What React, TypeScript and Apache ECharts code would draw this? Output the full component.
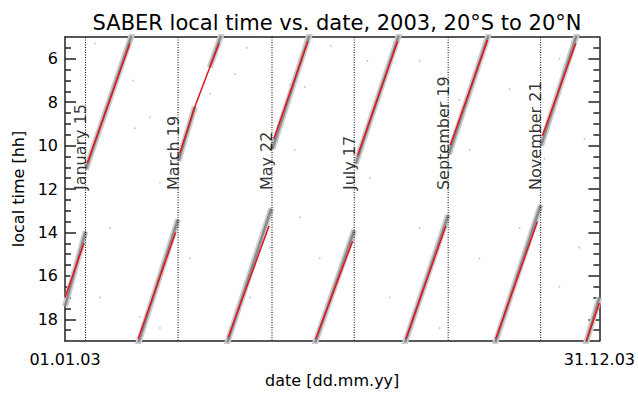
import React, { useEffect, useRef } from "react";
import * as echarts from "echarts";

// x: day of year 2003, y: local time [h]
const xRange = [1, 365];
const xTickValues = [1, 365];
const xTickLabels = ["01.01.03", "31.12.03"];
const yRange = [5, 19];
const yMajor = [6, 8, 10, 12, 14, 16, 18];
const yMinor = [5.5, 6.5, 7, 7.5, 8.5, 9, 9.5, 10.5, 11, 11.5, 12.5, 13, 13.5, 14.5, 15, 15.5, 16.5, 17, 17.5, 18.5];

const yawDays = [15, 78, 142, 198, 262, 325];
const yawLabels = ["January 15", "March 19", "May 22", "July 17", "September 19", "November 21"];
const yawLabelHour = 12.05;

// mean local time (red) segments
const meanSegments: number[][][] = [
  [[1, 17.0], [13.9, 14.5]],
  [[16.2, 10.8], [29.4, 8.3], [45.2, 5.3]],
  [[50.9, 18.9], [76.3, 14.0]],
  [[79.2, 10.35], [89.4, 8.22], [99.6, 6.4], [106, 5.29]],
  [[112.1, 18.85], [140, 13.7]],
  [[143.2, 9.7], [166.5, 5.2]],
  [[171.8, 18.9], [196.9, 14.4]],
  [[200.3, 10.46], [227.6, 5.2]],
  [[233.2, 18.9], [260.4, 13.7]],
  [[263.4, 10.0], [288.8, 5.14]],
  [[294.4, 18.9], [322.8, 13.5]],
  [[326.2, 9.55], [348.9, 5.29]],
  [[356.1, 19.0], [365, 17.25]],
];

// spread of individual profiles (grey band)
const bandSegments: number[][][] = [
  [[1, 17.4], [15, 13.95]],
  [[15.2, 11.1], [47, 4.8]],
  [[50, 19.3], [78, 13.4]],
  [[78.3, 10.7], [89.4, 8.22]],
  [[99.6, 6.4], [108, 4.8]],
  [[111, 19.2], [141.5, 12.9]],
  [[142.3, 10.15], [168, 4.8]],
  [[170.8, 19.2], [198, 13.9]],
  [[199, 10.84], [229, 4.8]],
  [[232, 19.2], [262, 13.2]],
  [[262.5, 10.4], [290, 4.8]],
  [[293.5, 19.2], [325, 12.74]],
  [[325.3, 10.0], [350, 4.8]],
  [[355, 19.3], [365, 17.0]],
];

// scattered outlier profiles
const outliers: number[][] = [
  [21.4, 5.3], [47.3, 7.0], [116.7, 6.7], [124.8, 5.5], [58.8, 8.7], [99.7, 7.6],
  [65.6, 11.7], [48.6, 9.2], [154.1, 7.2], [164.3, 7.3], [157.5, 10.2], [182, 5.4],
  [207, 6.1], [242.5, 6.1], [269.7, 7.9], [303.8, 7.4], [337.8, 6.0], [354.8, 9.7],
  [276.5, 10.2], [160.9, 13.3], [174.5, 15.2], [181.3, 17.0], [126.9, 17.0], [86, 15.2],
  [31.6, 13.8], [24.8, 17.0], [65.6, 18.4], [242.5, 13.8], [256.1, 18.4], [283.3, 15.2],
  [310.6, 13.8], [337.8, 16.5], [351.4, 14.7], [222.1, 17.0], [113.3, 18.4], [140.5, 14.7],
  [198.3, 12.4], [327.6, 10.6], [52, 17.9], [208.5, 11.5],
];

const FONT = "DejaVu Sans";
const INK = "#000";

export default function App() {
  const ref = useRef<HTMLDivElement>(null);
  useEffect(() => {
    if (!ref.current) return;
    const chart = echarts.init(ref.current, null, { renderer: "svg" });
    const frame = { show: true, lineStyle: { color: "#222", width: 1.5 } };
    const yBase = { type: "value", min: yRange[0], max: yRange[1], inverse: true, splitLine: { show: false } };
    const series: any[] = [];
    bandSegments.forEach((seg) => {
      series.push({ type: "line", data: seg, showSymbol: false, silent: true, lineStyle: { color: "#cccccc", width: 6, cap: "butt" }, z: 1 });
      series.push({ type: "line", data: seg, showSymbol: false, silent: true, lineStyle: { color: "#8a8a8a", width: 2.5, cap: "butt" }, z: 2 });
    });
    meanSegments.forEach((seg) => {
      series.push({ type: "line", data: seg, showSymbol: false, silent: true, lineStyle: { color: "#e3141b", width: 1.5 }, z: 4 });
    });
    yawDays.forEach((d) => {
      series.push({ type: "line", data: [[d, yRange[0]], [d, yRange[1]]], showSymbol: false, silent: true, lineStyle: { color: "#000", width: 1, type: [1, 1.5] }, z: 3 });
    });
    series.push({
      type: "scatter", data: outliers, symbolSize: 1.8, itemStyle: { color: "#b8b8b8" }, silent: true, z: 0,
    });
    series.push({
      type: "scatter",
      data: yawDays.map((d, i) => ({ value: [d, yawLabelHour], name: yawLabels[i] })),
      symbolSize: 0,
      silent: true,
      z: 5,
      label: {
        show: true, position: [0, 0], rotate: 90, align: "left", verticalAlign: "bottom",
        formatter: (p: any) => p.name, fontFamily: FONT, fontSize: 16, color: INK, offset: [0, 3],
      },
    });
    chart.setOption({
      animation: false,
      backgroundColor: "#fff",
      title: {
        text: "SABER local time vs. date, 2003, 20°S to 20°N",
        left: 332, top: 7, textAlign: "center",
        textStyle: { fontFamily: FONT, fontSize: 21, fontWeight: "normal", color: INK },
      },
      grid: { left: 65, right: 38, top: 37, bottom: 49 },
      xAxis: [
        {
          type: "value", min: xRange[0], max: xRange[1], position: "bottom",
          axisLine: frame, axisTick: { show: false }, splitLine: { show: false },
          axisLabel: {
            customValues: xTickValues, margin: 10, fontFamily: FONT, fontSize: 16, color: INK,
            formatter: (v: number) => xTickLabels[xTickValues.indexOf(v)] ?? "",
          },
          name: "date [dd.mm.yy]", nameLocation: "middle", nameGap: 31,
          nameTextStyle: { fontFamily: FONT, fontSize: 16, color: INK },
        },
        {
          type: "value", min: xRange[0], max: xRange[1], position: "top",
          axisLine: frame, axisTick: { show: false }, axisLabel: { show: false }, splitLine: { show: false },
        },
      ],
      yAxis: [
        {
          ...yBase, position: "left", axisLine: frame,
          axisTick: { show: true, inside: true, length: 11, customValues: yMajor, lineStyle: { color: "#222", width: 1.5 } },
          axisLabel: { customValues: yMajor, margin: 7, fontFamily: FONT, fontSize: 16, color: INK },
          name: "local time [hh]", nameLocation: "middle", nameGap: 36,
          nameTextStyle: { fontFamily: FONT, fontSize: 16, color: INK },
        },
        {
          ...yBase, position: "left", axisLine: { show: false },
          axisTick: { show: true, inside: true, length: 6, customValues: yMinor, lineStyle: { color: "#222", width: 1.5 } },
          axisLabel: { show: false },
        },
        {
          ...yBase, position: "right", axisLine: frame,
          axisTick: { show: true, inside: true, length: 11, customValues: yMajor, lineStyle: { color: "#222", width: 1.5 } },
          axisLabel: { show: false },
        },
        {
          ...yBase, position: "right", axisLine: { show: false },
          axisTick: { show: true, inside: true, length: 6, customValues: yMinor, lineStyle: { color: "#222", width: 1.5 } },
          axisLabel: { show: false },
        },
      ],
      series,
    });
    return () => chart.dispose();
  }, []);
  return <div ref={ref} style={{ width: 638, height: 393, position: "absolute", left: 0, top: 0 }} />;
}
